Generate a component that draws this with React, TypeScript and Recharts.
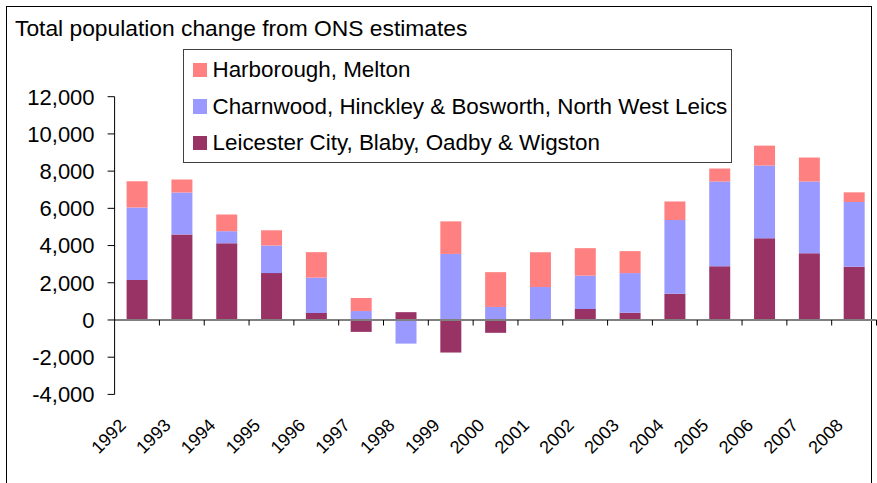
import React from 'react';
import { BarChart, Bar, XAxis, YAxis, ReferenceLine, Legend } from 'recharts';

const years = ['1992', '1993', '1994', '1995', '1996', '1997', '1998', '1999', '2000', '2001', '2002', '2003', '2004', '2005', '2006', '2007', '2008'];
const leicester = [2150, 4600, 4120, 2520, 375, -640, 420, -1750, -690, 30, 590, 390, 1410, 2890, 4390, 3590, 2860];
const charnwood = [3900, 2250, 650, 1480, 1900, 480, -1270, 3550, 700, 1740, 1790, 2130, 3960, 4550, 3910, 3850, 3480];
const harborough = [1400, 700, 900, 820, 1370, 700, 0, 1750, 1870, 1870, 1480, 1180, 1000, 700, 1070, 1290, 520];
const yTicks = [-4000, -2000, 0, 2000, 4000, 6000, 8000, 10000, 12000];

const NAME_LEI = 'Leicester City, Blaby, Oadby & Wigston';
const NAME_CHA = 'Charnwood, Hinckley & Bosworth, North West Leics';
const NAME_HAR = 'Harborough, Melton';
const LEGEND_ORDER = [NAME_HAR, NAME_CHA, NAME_LEI];
const C_LEI = '#993366';
const C_CHA = '#9999FF';
const C_HAR = '#FF8080';
const TITLE = 'Total population change from ONS estimates';

const FONT = '"Liberation Sans", Arial, sans-serif';

const data = years.map((y, i) => ({
  year: y,
  leicester: leicester[i],
  charnwood: charnwood[i],
  harborough: harborough[i],
}));

function ZeroLine(props: any) {
  const { x1, x2, y1 } = props;
  const n = years.length;
  const step = (x2 - x1) / n;
  const marks = [];
  for (let i = 1; i <= n; i++) {
    const x = x1 + step * i;
    marks.push(<line key={i} x1={x} x2={x} y1={y1} y2={y1 + 5.5} stroke="#000" strokeWidth={1} />);
  }
  return (
    <g>
      <line x1={x1} x2={x2} y1={y1} y2={y1} stroke="#808080" strokeWidth={2} />
      {marks}
    </g>
  );
}

function YearTick(props: any) {
  const { x, y, payload } = props;
  const ax = x - 10;
  const ay = y + 32;
  return (
    <text
      x={ax}
      y={ay}
      textAnchor="end"
      fontSize={18}
      fontFamily={FONT}
      fill="#000"
      transform={`rotate(-45 ${ax} ${ay})`}
    >
      {payload.value}
    </text>
  );
}

function LegendBox(props: any) {
  const payload = (props.payload || [])
    .slice()
    .sort((a: any, b: any) => LEGEND_ORDER.indexOf(a.value) - LEGEND_ORDER.indexOf(b.value));
  return (
    <div style={{ position: 'relative', width: '100%', height: '100%' }}>
      {payload.map((p: any, i: number) => (
        <div
          key={p.value}
          style={{
            position: 'absolute',
            left: 0,
            top: 9 + 36.5 * i,
            height: 22,
            display: 'flex',
            alignItems: 'center',
            whiteSpace: 'nowrap',
          }}
        >
          <div style={{ width: 14.5, height: 14.5, background: p.color, marginLeft: 8.5, marginRight: 5.5 }} />
          <span style={{ fontFamily: FONT, fontSize: 22.4, lineHeight: '22px', color: '#000' }}>{p.value}</span>
        </div>
      ))}
    </div>
  );
}

export default function App() {
  return (
    <div style={{ position: 'relative', width: 877, height: 483, background: '#fff', overflow: 'hidden' }}>
      <style>{`body{margin:0}`}</style>
      <div
        style={{
          position: 'absolute',
          left: 5.5,
          top: 5.5,
          width: 866,
          height: 500,
          border: '1px solid #000',
          boxSizing: 'border-box',
        }}
      />
      <div
        style={{
          position: 'absolute',
          left: 15,
          top: 17,
          fontFamily: FONT,
          fontSize: 22.8,
          lineHeight: '22px',
          color: '#000',
          whiteSpace: 'nowrap',
        }}
      >
        {TITLE}
      </div>
      <div style={{ position: 'absolute', left: 0, top: 0 }}>
        <BarChart
          width={877}
          height={483}
          data={data}
          stackOffset="sign"
          margin={{ top: 96.7, right: 0.5, bottom: 0, left: 0 }}
          barSize={21}
        >
          <XAxis
            dataKey="year"
            axisLine={false}
            tickLine={false}
            tickSize={0}
            tickMargin={0}
            height={88.6}
            interval={0}
            tick={<YearTick />}
          />
          <YAxis
            domain={[-4000, 12000]}
            ticks={yTicks}
            width={114.6}
            interval={0}
            axisLine={{ stroke: '#000', strokeWidth: 1 }}
            tickLine={{ stroke: '#000', strokeWidth: 1 }}
            tickSize={7}
            tickMargin={13}
            tickFormatter={(v: number) => v.toLocaleString('en-US')}
            tick={{ fontSize: 22, fontFamily: FONT, fill: '#000' }}
          />
          <Bar dataKey="leicester" name={NAME_LEI} stackId="a" fill={C_LEI} isAnimationActive={false} />
          <Bar dataKey="charnwood" name={NAME_CHA} stackId="a" fill={C_CHA} isAnimationActive={false} />
          <Bar dataKey="harborough" name={NAME_HAR} stackId="a" fill={C_HAR} isAnimationActive={false} />
          <ReferenceLine y={0} shape={<ZeroLine />} />
          <Legend
            layout="vertical"
            align="center"
            verticalAlign="middle"
            content={<LegendBox />}
            wrapperStyle={{
              left: 183,
              top: 49,
              width: 549,
              height: 113.5,
              border: '1.5px solid #404040',
              background: '#fff',
              boxSizing: 'border-box',
            }}
          />
        </BarChart>
      </div>
    </div>
  );
}
